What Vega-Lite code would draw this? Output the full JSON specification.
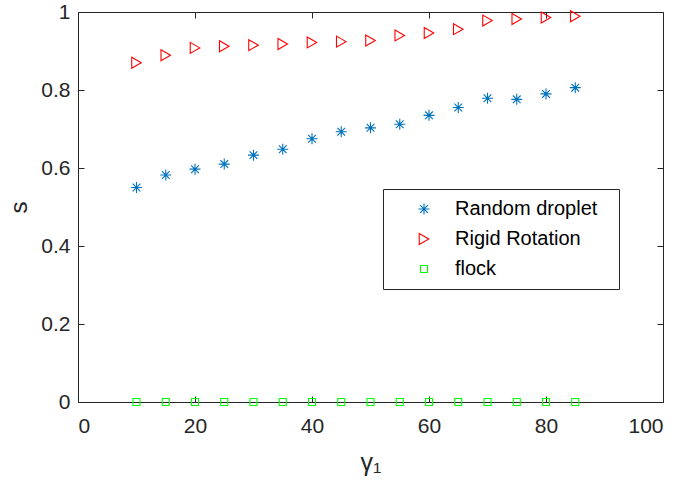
{
  "$schema": "https://vega.github.io/schema/vega-lite/v6.json",
  "width": 585,
  "height": 390,
  "autosize": {"type": "none"},
  "padding": {"left": 78, "top": 12, "right": 23, "bottom": 89},
  "background": "white",
  "config": {
    "view": {"stroke": null},
    "font": "Liberation Sans",
    "axis": {
      "domainColor": "#262626",
      "tickColor": "#262626",
      "labelColor": "#262626",
      "titleColor": "#262626",
      "labelFont": "Liberation Sans",
      "titleFont": "Liberation Sans",
      "labelFontSize": 21,
      "domainWidth": 1,
      "tickWidth": 1,
      "grid": false,
      "zindex": 1
    }
  },
  "data": {
    "values": [
      {"series": "Random droplet", "gamma": 10, "s": 0.550},
      {"series": "Random droplet", "gamma": 15, "s": 0.582},
      {"series": "Random droplet", "gamma": 20, "s": 0.597},
      {"series": "Random droplet", "gamma": 25, "s": 0.610},
      {"series": "Random droplet", "gamma": 30, "s": 0.633},
      {"series": "Random droplet", "gamma": 35, "s": 0.648},
      {"series": "Random droplet", "gamma": 40, "s": 0.675},
      {"series": "Random droplet", "gamma": 45, "s": 0.693},
      {"series": "Random droplet", "gamma": 50, "s": 0.703},
      {"series": "Random droplet", "gamma": 55, "s": 0.712},
      {"series": "Random droplet", "gamma": 60, "s": 0.735},
      {"series": "Random droplet", "gamma": 65, "s": 0.755},
      {"series": "Random droplet", "gamma": 70, "s": 0.779},
      {"series": "Random droplet", "gamma": 75, "s": 0.776},
      {"series": "Random droplet", "gamma": 80, "s": 0.790},
      {"series": "Random droplet", "gamma": 85, "s": 0.806},
      {"series": "Rigid Rotation", "gamma": 10, "s": 0.870},
      {"series": "Rigid Rotation", "gamma": 15, "s": 0.889},
      {"series": "Rigid Rotation", "gamma": 20, "s": 0.908},
      {"series": "Rigid Rotation", "gamma": 25, "s": 0.912},
      {"series": "Rigid Rotation", "gamma": 30, "s": 0.915},
      {"series": "Rigid Rotation", "gamma": 35, "s": 0.918},
      {"series": "Rigid Rotation", "gamma": 40, "s": 0.922},
      {"series": "Rigid Rotation", "gamma": 45, "s": 0.924},
      {"series": "Rigid Rotation", "gamma": 50, "s": 0.927},
      {"series": "Rigid Rotation", "gamma": 55, "s": 0.940},
      {"series": "Rigid Rotation", "gamma": 60, "s": 0.946},
      {"series": "Rigid Rotation", "gamma": 65, "s": 0.956},
      {"series": "Rigid Rotation", "gamma": 70, "s": 0.978},
      {"series": "Rigid Rotation", "gamma": 75, "s": 0.982},
      {"series": "Rigid Rotation", "gamma": 80, "s": 0.986},
      {"series": "Rigid Rotation", "gamma": 85, "s": 0.989},
      {"series": "flock", "gamma": 10, "s": 0},
      {"series": "flock", "gamma": 15, "s": 0},
      {"series": "flock", "gamma": 20, "s": 0},
      {"series": "flock", "gamma": 25, "s": 0},
      {"series": "flock", "gamma": 30, "s": 0},
      {"series": "flock", "gamma": 35, "s": 0},
      {"series": "flock", "gamma": 40, "s": 0},
      {"series": "flock", "gamma": 45, "s": 0},
      {"series": "flock", "gamma": 50, "s": 0},
      {"series": "flock", "gamma": 55, "s": 0},
      {"series": "flock", "gamma": 60, "s": 0},
      {"series": "flock", "gamma": 65, "s": 0},
      {"series": "flock", "gamma": 70, "s": 0},
      {"series": "flock", "gamma": 75, "s": 0},
      {"series": "flock", "gamma": 80, "s": 0},
      {"series": "flock", "gamma": 85, "s": 0}
    ]
  },
  "layer": [
    {
      "mark": {"type": "point", "filled": false, "strokeWidth": 1.1, "opacity": 1, "size": 121},
      "encoding": {
        "x": {
          "field": "gamma", "type": "quantitative",
          "scale": {"domain": [0, 100], "nice": false, "zero": false},
          "axis": {
            "orient": "bottom", "values": [0, 20, 40, 60, 80, 100],
            "tickSize": -6, "labelPadding": 19,
            "title": "γ₁", "titleFontSize": 25, "titleFontWeight": "normal",
            "titlePadding": 14
          }
        },
        "y": {
          "field": "s", "type": "quantitative",
          "scale": {"domain": [0, 1], "nice": false, "zero": false},
          "axis": {
            "orient": "left", "values": [0, 0.2, 0.4, 0.6, 0.8, 1],
            "format": "~g", "tickSize": -6, "labelPadding": 14,
            "title": "s", "titleFontSize": 24, "titleFontWeight": "normal",
            "titlePadding": 9
          }
        },
        "color": {
          "field": "series", "type": "nominal",
          "scale": {
            "domain": ["Random droplet", "Rigid Rotation", "flock"],
            "range": ["#0072BD", "#FF0000", "#00FF00"]
          },
          "legend": {
            "orient": "none", "legendX": 305, "legendY": 177,
            "title": " ", "titleOrient": "right", "titleFontSize": 8, "titlePadding": 12,
            "strokeColor": "#262626", "fillColor": "white",
            "padding": 10, "labelFontSize": 20, "labelFont": "Liberation Sans",
            "labelColor": "#000000", "labelOffset": 21, "symbolOffset": 21,
            "rowPadding": 10, "symbolStrokeWidth": 1.1, "symbolSize": 121
          }
        },
        "shape": {
          "field": "series", "type": "nominal",
          "scale": {
            "domain": ["Random droplet", "Rigid Rotation", "flock"],
            "range": [
              "M-1,0L1,0M0,-1L0,1M-0.7,-0.7L0.7,0.7M-0.7,0.7L0.7,-0.7",
              "triangle-right",
              "M-0.64,-0.64L0.64,-0.64L0.64,0.64L-0.64,0.64Z"
            ]
          }
        }
      }
    },
    {
      "mark": {"type": "point", "opacity": 0},
      "encoding": {
        "x": {
          "field": "gamma", "type": "quantitative",
          "axis": {"orient": "top", "values": [0, 20, 40, 60, 80, 100], "labels": false, "tickSize": -6, "title": null}
        },
        "y": {
          "field": "s", "type": "quantitative",
          "axis": {"orient": "right", "values": [0, 0.2, 0.4, 0.6, 0.8, 1], "labels": false, "tickSize": -6, "title": null}
        }
      }
    }
  ],
  "resolve": {"axis": {"x": "independent", "y": "independent"}}
}
